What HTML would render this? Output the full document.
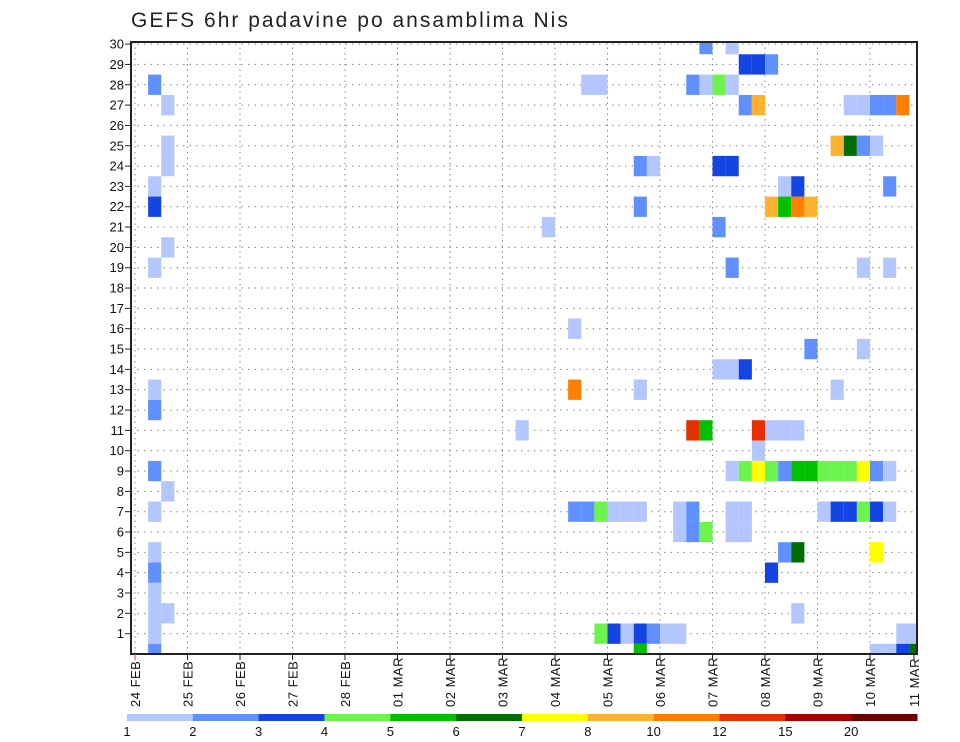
<!DOCTYPE html>
<html><head><meta charset="utf-8"><style>
html,body{margin:0;padding:0;background:#fff;}
svg{display:block;font-family:"Liberation Sans",sans-serif;}
</style></head><body>
<svg id="chart" width="960" height="742" viewBox="0 0 960 742" xmlns="http://www.w3.org/2000/svg">
<text x="131" y="27" font-size="21" letter-spacing="2" fill="#222">GEFS 6hr padavine po ansamblima Nis</text>
<g id="grid"></g>
<g id="cells"></g>
<rect x="131" y="42" width="786" height="612" fill="none" stroke="#222" stroke-width="2"/>
<g id="yaxis"></g>
<g id="xaxis"></g>
<g id="cbar"></g>
</svg>
<script>
// ---- data ----
const dayLabels = ["24 FEB","25 FEB","26 FEB","27 FEB","28 FEB","01 MAR","02 MAR","03 MAR","04 MAR","05 MAR","06 MAR","07 MAR","08 MAR","09 MAR","10 MAR","11 MAR"];
const memberTicks = [1,2,3,4,5,6,7,8,9,10,11,12,13,14,15,16,17,18,19,20,21,22,23,24,25,26,27,28,29,30];
const levelLabels = ["1","2","3","4","5","6","7","8","10","12","15","20"];
const levels = [1,2,3,4,5,6,7,8,10,12,15,20];
const levelColors = ["#b4c6fe","#6090fe","#1444e2","#6cf34c","#00c000","#006e00","#ffff00","#ffb22e","#ff8000","#e63000","#a80000","#6c0000"];
// 6-hour step index since 24 FEB 00Z
const cellStep = [1,2,2,2,1,1,2,1,1,1,1,2,1,1,1,1,1,2,1,1,
34,35,38,39,38,31,33,33,38,29,42,43,
33,34,35,36,37,38,41,41,42,42,43,
35,36,37,38,39,40,41,38,
43,45,46,47,48,42,43,44,45,46,47,54,55,56,57,58,53,54,55,56,44,45,49,50,57,48,49,50,51,44,45,55,57,51,55,44,45,46,53,47,48,49,50,47,
45,46,47,48,49,50,51,52,53,54,55,56,57,
45,46,45,46,52,53,54,55,56,57,
49,50,56,48,50,58,59,56,57,58,59];
// ensemble member
const cellMember = [28,27,25,24,23,22,20,19,13,12,9,8,7,5,4,3,2,2,1,0,
28,28,24,24,22,21,16,13,13,11,11,11,
7,7,7,7,7,7,7,6,7,6,6,
1,1,1,1,1,1,1,0,
30,30,29,29,29,28,28,28,28,27,27,27,27,27,27,27,25,25,25,25,24,24,23,23,23,22,22,22,22,21,19,19,19,15,15,14,14,14,13,11,11,11,11,10,
9,9,9,9,9,9,9,9,9,9,9,9,9,
7,7,6,6,7,7,7,7,7,7,
5,5,5,4,2,1,1,0,0,0,0];
// precipitation (mm / 6h)
const cellValue = [2.5,1.5,1.5,1.5,1.5,3.5,1.5,1.5,1.5,2.5,2.5,1.5,1.5,1.5,2.5,1.5,1.5,1.5,1.5,2.5,
1.5,1.5,2.5,1.5,2.5,1.5,1.5,11,1.5,1.5,13.5,5.5,
2.5,2.5,4.5,1.5,1.5,1.5,1.5,1.5,2.5,2.5,4.5,
4.5,3.5,1.5,3.5,2.5,1.5,1.5,5.5,
2.5,1.5,3.5,3.5,2.5,2.5,1.5,4.5,1.5,2.5,9,1.5,1.5,2.5,2.5,11,9,6.5,2.5,1.5,3.5,3.5,1.5,3.5,2.5,9,5.5,11,9,2.5,2.5,1.5,1.5,2.5,1.5,1.5,1.5,3.5,1.5,13.5,1.5,1.5,1.5,1.5,
1.5,4.5,7.5,4.5,2.5,5.5,5.5,4.5,4.5,4.5,7.5,2.5,1.5,
1.5,1.5,1.5,1.5,1.5,3.5,3.5,4.5,3.5,1.5,
2.5,6.5,7.5,3.5,1.5,1.5,1.5,1.5,1.5,3.5,6.5];

// ---- axes ----
const NS="http://www.w3.org/2000/svg";
const L=131,R=917,T=42,B=654;
const x0=135, dayW=52.5, stepW=dayW/4, rowH=20.33;
function xDay(d){return x0+d*dayW;}
function xStep(n){return x0+n*stepW;}
function yMem(m){return B-m*rowH;}
function colorFor(v){let c=levelColors[0];for(let i=0;i<levels.length;i++){if(v>=levels[i])c=levelColors[i];}return c;}
function mk(tag,attrs,parent){const e=document.createElementNS(NS,tag);for(const k in attrs)e.setAttribute(k,attrs[k]);parent.appendChild(e);return e;}

const grid=document.getElementById('grid');
memberTicks.forEach(m=>{
  const y=yMem(m);
  const ln=mk('line',{x1:L,x2:R,y1:y,y2:y,stroke:"#888","stroke-width":1,"stroke-dasharray":"1.5,5"},grid);
  
  
});
dayLabels.forEach((d,i)=>{
  const x=xDay(i); if(x<=L||x>=R) return;
  const ln=mk('line',{x1:x,x2:x,y1:T,y2:B,stroke:"#888","stroke-width":1,"stroke-dasharray":"1.5,4"},grid);
  
  
});

const cells=document.getElementById('cells');
for(let i=0;i<cellStep.length;i++){
  let xa=xStep(cellStep[i]), xb=xStep(cellStep[i]+1);
  let ya=yMem(cellMember[i])-rowH/2, yb=yMem(cellMember[i])+rowH/2;
  xa=Math.max(xa,L);xb=Math.min(xb,R);ya=Math.max(ya,T);yb=Math.min(yb,B);
  const r=mk('rect',{x:xa,y:ya,width:xb-xa,height:yb-ya,fill:colorFor(cellValue[i])},cells);
  
  
}

const ya=document.getElementById('yaxis');
memberTicks.forEach(m=>{
  const y=yMem(m);
  const t=mk('line',{x1:L-6,x2:L,y1:y,y2:y,stroke:"#222","stroke-width":1},ya);
  
  
  const tx=mk('text',{x:L-7,y:y+4.5,"font-size":13,"text-anchor":"end",fill:"#111"},ya);
  tx.textContent=m;
  
  
});

const xa=document.getElementById('xaxis');
dayLabels.forEach((d,i)=>{
  let x=xDay(i); if(x>R) x=R-3;
  const t=mk('line',{x1:x,x2:x,y1:B,y2:B+6,stroke:i==0?"#c44":"#222","stroke-width":1},xa);
  
  
  const tx=mk('text',{x:0,y:0,"font-size":13,"letter-spacing":"0.5",fill:"#111",transform:`translate(${x+5},707) rotate(-90)`},xa);
  tx.textContent=d;
  
  
});

const cb=document.getElementById('cbar');
const cbL=127, cbW=(917-127)/levelColors.length;
levelColors.forEach((c,i)=>{
  const r=mk('rect',{x:cbL+i*cbW,y:714,width:cbW+0.5,height:7,fill:c},cb);
  
  
});
levelLabels.forEach((l,i)=>{
  const tx=mk('text',{x:cbL+i*cbW,y:736,"font-size":13,"text-anchor":"middle",fill:"#111"},cb);
  tx.textContent=l;
  
  
});
</script>
</body></html>
